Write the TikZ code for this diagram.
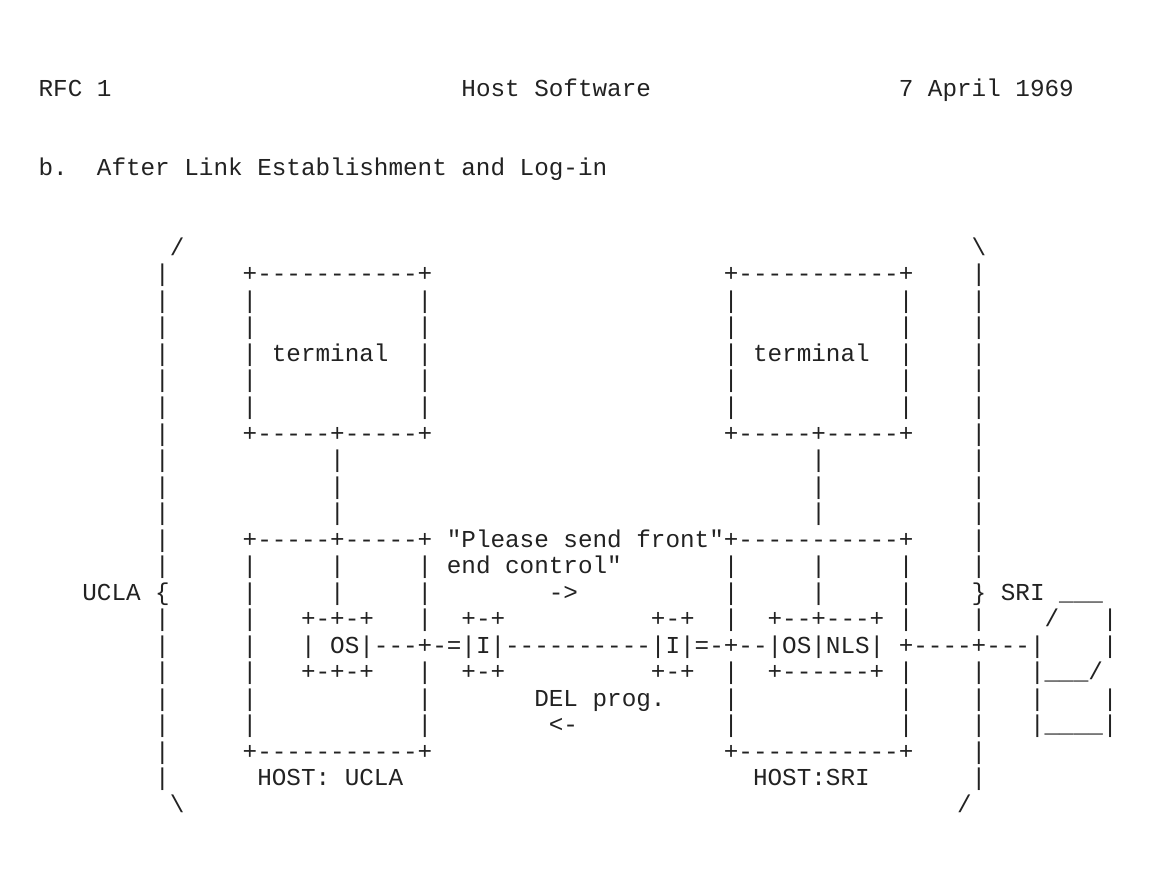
\documentclass[tikz,border=0pt]{standalone}
\usepackage{fontspec}
\setmonofont{Liberation Mono}
\newcounter{segc}
\definecolor{ink}{HTML}{222222}
\tikzset{asc/.style={anchor=base west,inner sep=0pt,outer sep=0pt,text=ink,font=\ttfamily\fontsize{24.3}{26}\selectfont}}
\newcommand\seg[3]{\stepcounter{segc}\node[asc] (s\arabic{segc}) at ({38.6+#1*14.58},{282+#2*26.5}) {#3};}
\begin{document}
\begin{tikzpicture}[x=1pt,y=-1pt]
\useasboundingbox[fill=white] (0,0) rectangle (1152,877);
% header
\seg{0}{-7}{RFC 1}\seg{29}{-7}{Host Software}\seg{59}{-7}{7 April 1969}
\seg{0}{-4}{b.}\seg{4}{-4}{After Link Establishment and Log-in}
\seg{9}{-1}{/}\seg{64}{-1}{\textbackslash}
% side borders
\foreach \r in {0,...,11,13,15,16,17,18,19} {\seg{8}{\r}{|}}
\foreach \r in {0,...,11,13,15,16,17,18,19} {\seg{64}{\r}{|}}
% terminals
\seg{14}{0}{+-----------+}\seg{47}{0}{+-----------+}
\foreach \r in {1,2,3,4,5} {\seg{14}{\r}{|}\seg{26}{\r}{|}\seg{47}{\r}{|}\seg{59}{\r}{|}}
\seg{16}{3}{terminal}\seg{49}{3}{terminal}
\seg{14}{6}{+-----+-----+}\seg{47}{6}{+-----+-----+}
\foreach \r in {7,8,9} {\seg{20}{\r}{|}\seg{53}{\r}{|}}
% hosts
\seg{14}{10}{+-----+-----+}\seg{28}{10}{"Please send front"+-----------+}
\foreach \r in {11,12} {\seg{14}{\r}{|}\seg{20}{\r}{|}\seg{26}{\r}{|}\seg{47}{\r}{|}\seg{53}{\r}{|}\seg{59}{\r}{|}}
\seg{28}{11}{end control"}
\seg{3}{12}{UCLA \{}\seg{35}{12}{->}\seg{64}{12}{\} SRI \_\_\_}
\seg{14}{13}{|}\seg{18}{13}{+-+-+}\seg{26}{13}{|}\seg{29}{13}{+-+}\seg{42}{13}{+-+}\seg{47}{13}{|}\seg{50}{13}{+--+---+}\seg{59}{13}{|}\seg{69}{13}{/}\seg{73}{13}{|}
\seg{8}{14}{|}\seg{14}{14}{|}\seg{18}{14}{|~OS|---+-=|I|----------|I|=-+--|OS|NLS|}\seg{59}{14}{+----+---|}\seg{73}{14}{|}
\seg{14}{15}{|}\seg{18}{15}{+-+-+}\seg{26}{15}{|}\seg{29}{15}{+-+}\seg{42}{15}{+-+}\seg{47}{15}{|}\seg{50}{15}{+------+}\seg{59}{15}{|}\seg{68}{15}{|\_\_\_/}
\seg{14}{16}{|}\seg{26}{16}{|}\seg{34}{16}{DEL prog.}\seg{47}{16}{|}\seg{59}{16}{|}\seg{68}{16}{|}\seg{73}{16}{|}
\seg{14}{17}{|}\seg{26}{17}{|}\seg{35}{17}{<-}\seg{47}{17}{|}\seg{59}{17}{|}\seg{68}{17}{|\_\_\_\_|}
\seg{14}{18}{+-----------+}\seg{47}{18}{+-----------+}
\seg{15}{19}{HOST: UCLA}\seg{49}{19}{HOST:SRI}
\seg{9}{20}{\textbackslash}\seg{63}{20}{/}
\end{tikzpicture}
\end{document}
